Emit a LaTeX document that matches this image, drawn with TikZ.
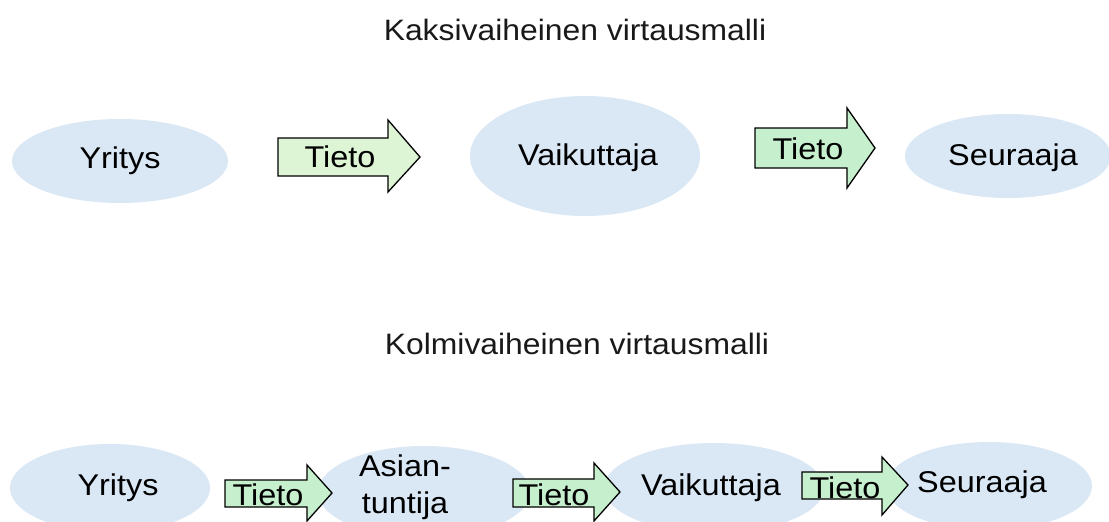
\documentclass[tikz,border=0pt]{standalone}
\usepackage{fontspec}
\setmainfont{Liberation Sans}[FakeStretch=1.08]
\begin{document}
\begin{tikzpicture}[x=1pt,y=-1pt,
  bubble/.style={draw=none,fill=bubblefill},
  label/.style={font=\fontsize{30}{34}\selectfont,inner sep=0pt,text=black},
  heading/.style={font=\fontsize{29.5}{33}\selectfont,inner sep=0pt,text=black!90},
  blockarrow/.style={draw=black,line width=1.3pt,line join=miter}]
\definecolor{bubblefill}{HTML}{DAE7F5}
\definecolor{paleleaf}{HTML}{DDF4D5}
\definecolor{leaf}{HTML}{C6EFCE}
\useasboundingbox (0,0) rectangle (1109,522);
\fill[white] (0,0) rectangle (1109,522);

% ---------- two-step flow ----------
\node[heading] (t1) at (575,30) {Kaksivaiheinen virtausmalli};

\fill[bubble] (120,161) ellipse [x radius=108,y radius=42];
\fill[bubble] (585,156) ellipse [x radius=115,y radius=60];
\fill[bubble] (1008,156) ellipse [x radius=103,y radius=42];
\node[label] (a1) at (120,161) {Yritys};
\node[label] (a2) at (588,158) {Vaikuttaja};
\node[label] (a3) at (1013,158) {Seuraaja};

\draw[blockarrow,fill=paleleaf] (278,138) -- (388,138) -- (388,120) -- (420,157)
  -- (388,192) -- (388,176) -- (278,176) -- cycle;
\node[label] (f1) at (340,157) {Tieto};
\draw[blockarrow,fill=leaf] (755,128) -- (847,128) -- (847,108) -- (875,148)
  -- (847,188) -- (847,168) -- (755,168) -- cycle;
\node[label] (f2) at (808,149) {Tieto};

% ---------- three-step flow ----------
\node[heading] (t2) at (577,344) {Kolmivaiheinen virtausmalli};

\fill[bubble] (110,488) ellipse [x radius=100,y radius=44];
\fill[bubble] (424,492) ellipse [x radius=106,y radius=46];
\fill[bubble] (714,488) ellipse [x radius=110,y radius=45];
\fill[bubble] (989,486) ellipse [x radius=103,y radius=44];
\node[label] (b1) at (118,488) {Yritys};
\node[label,align=center] (b2) at (405,487) {Asian-\\[3pt]tuntija};
\node[label] (b3) at (711,488) {Vaikuttaja};
\node[label] (b4) at (982,485) {Seuraaja};

\draw[blockarrow,fill=leaf] (225,480) -- (307,480) -- (307,465) -- (332,493)
  -- (307,521) -- (307,507) -- (225,507) -- cycle;
\node[label] (g1) at (268,495) {Tieto};
\draw[blockarrow,fill=leaf] (513,479) -- (594,479) -- (594,463) -- (620,492)
  -- (594,521) -- (594,507) -- (513,507) -- cycle;
\node[label] (g2) at (554,495) {Tieto};
\draw[blockarrow,fill=leaf] (802,472) -- (882,472) -- (882,457) -- (908,485)
  -- (882,515) -- (882,499) -- (802,499) -- cycle;
\node[label] (g3) at (845,488) {Tieto};
\end{tikzpicture}
\end{document}
